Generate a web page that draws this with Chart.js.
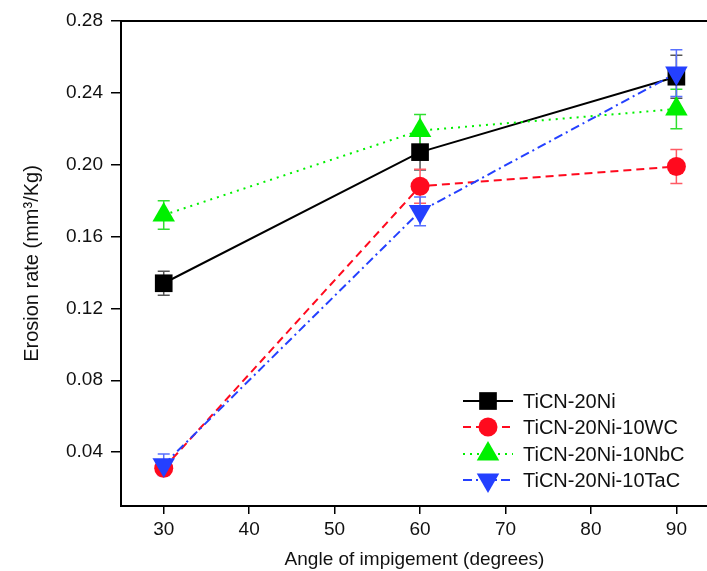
<!DOCTYPE html>
<html>
<head>
<meta charset="utf-8">
<script src="https://cdn.jsdelivr.net/npm/chart.js@4.4.1/dist/chart.umd.min.js"></script>
<style>
  html, body { margin: 0; padding: 0; background: #fff; overflow: hidden; }
  /* the plot frame runs on past the right side, so the canvas is a bit wider than the view */
  #wrap { width: 707px; height: 571px; overflow: hidden; }
</style>
</head>
<body>
<div id="wrap"><canvas id="erosionChart" width="721" height="571"></canvas></div>
<script>
// impingement angles (degrees)
const angles = [30, 60, 90];

// erosion rate, mm3/Kg
const ticnNi = [0.134, 0.207, 0.249];
const ticnNiWC = [0.031, 0.188, 0.199];
const ticnNiNbC = [0.172, 0.219, 0.231];
const ticnNiTaC = [0.033, 0.174, 0.251];

// error bar half-heights
const errNi = [0.0067, 0.010, 0.012];
const errWC = [0.003, 0.0095, 0.0095];
const errNbC = [0.008, 0.009, 0.011];
const errTaC = [0.006, 0.008, 0.013];

const seriesNames = ['TiCN-20Ni', 'TiCN-20Ni-10WC', 'TiCN-20Ni-10NbC', 'TiCN-20Ni-10TaC'];
const xTicks = [30, 40, 50, 60, 70, 80, 90];
const yTicks = [0.04, 0.08, 0.12, 0.16, 0.20, 0.24, 0.28];

const FONT = "'Liberation Sans', Arial, sans-serif";

const pts = (ys) => angles.map((a, i) => ({ x: a, y: ys[i] }));

const datasets = [
    { label: seriesNames[0], data: pts(ticnNi), err: errNi, color: '#000000', errColor: '#555555',
      borderDash: [], pointStyle: 'rect', pointRadius: 12.5, order: 3 },
    { label: seriesNames[1], data: pts(ticnNiWC), err: errWC, color: '#ff0a1e', errColor: '#ff5a64',
      borderDash: [8, 5], pointStyle: 'circle', pointRadius: 9.5, order: 2 },
    { label: seriesNames[2], data: pts(ticnNiNbC), err: errNbC, color: '#00f000', errColor: '#30e030',
      borderDash: [2, 5], pointStyle: 'triangle', pointRadius: 13, order: 1 },
    { label: seriesNames[3], data: pts(ticnNiTaC), err: errTaC, color: '#2440ff', errColor: '#5870ff',
      borderDash: [9, 4, 2, 4], pointStyle: 'triangle', rotation: 180, pointRadius: 13, order: 0 }
].map(d => ({
    ...d,
    borderColor: d.color,
    backgroundColor: d.color,
    pointBackgroundColor: d.color,
    pointBorderColor: d.color,
    pointBorderWidth: 0,
    pointRotation: d.rotation || 0,
    borderWidth: 2,
    tension: 0,
    fill: false
}));

// vertical error bars with caps, drawn under the lines and markers
const errorBars = {
    id: 'errorBars',
    beforeDatasetsDraw(chart) {
        const ctx = chart.ctx;
        const xs = chart.scales.x, ys = chart.scales.y;
        ctx.save();
        chart.data.datasets.forEach(ds => {
            ctx.strokeStyle = ds.errColor;
            ctx.lineWidth = 1.5;
            ds.data.forEach((p, i) => {
                const px = xs.getPixelForValue(p.x);
                const top = ys.getPixelForValue(p.y + ds.err[i]);
                const bot = ys.getPixelForValue(p.y - ds.err[i]);
                ctx.beginPath();
                ctx.moveTo(px, top); ctx.lineTo(px, bot);
                ctx.moveTo(px - 6, top); ctx.lineTo(px + 6, top);
                ctx.moveTo(px - 6, bot); ctx.lineTo(px + 6, bot);
                ctx.stroke();
            });
        });
        ctx.restore();
    }
};

// top frame line plus the legend box inside the plot
const frameAndLegend = {
    id: 'frameAndLegend',
    afterDraw(chart) {
        const ctx = chart.ctx;
        const area = chart.chartArea;
        ctx.save();
        ctx.strokeStyle = '#000';
        ctx.lineWidth = 2;
        ctx.beginPath();
        ctx.moveTo(area.left - 1, area.top);
        ctx.lineTo(area.right, area.top);
        ctx.stroke();

        const x0 = area.left + 342, x1 = area.left + 392;
        const rows = [401, 427, 454, 480];
        chart.data.datasets.forEach((ds, i) => {
            const y = rows[i];
            ctx.strokeStyle = ds.color;
            ctx.lineWidth = 2;
            ctx.setLineDash(ds.borderDash);
            ctx.beginPath();
            ctx.moveTo(x0, y); ctx.lineTo(x1, y);
            ctx.stroke();
            ctx.setLineDash([]);
            ctx.fillStyle = ds.color;
            Chart.helpers.drawPoint(ctx, {
                pointStyle: ds.pointStyle, radius: ds.pointRadius,
                rotation: ds.pointRotation, borderWidth: 0
            }, (x0 + x1) / 2, y);
            ctx.fillStyle = '#111';
            ctx.font = '20px ' + FONT;
            ctx.textBaseline = 'middle';
            ctx.fillText(ds.label, x1 + 10, y + 1);
        });
        ctx.restore();
    }
};

new Chart(document.getElementById('erosionChart'), {
    type: 'line',
    data: { datasets },
    plugins: [errorBars, frameAndLegend],
    options: {
        responsive: false,
        animation: false,
        layout: { padding: { top: 21, right: 0, bottom: 0, left: 0 } },
        plugins: { legend: { display: false }, tooltip: { enabled: false } },
        scales: {
            x: {
                type: 'linear',
                min: 25,
                max: 93.7,
                afterBuildTicks: (scale) => { scale.ticks = xTicks.map(v => ({ value: v })); },
                afterFit: (scale) => { scale.height = 65; },
                ticks: { color: '#111', font: { family: FONT, size: 19 }, padding: 4,
                         callback: (v) => String(v), maxRotation: 0 },
                grid: { drawOnChartArea: false, color: '#000', lineWidth: 1.5, tickLength: 8 },
                border: { color: '#000', width: 2 },
                title: { display: true, text: 'Angle of impigement (degrees)', color: '#111',
                         font: { family: FONT, size: 19 }, padding: { top: 0, bottom: 0 } }
            },
            y: {
                type: 'linear',
                min: 0.01,
                max: 0.28,
                afterBuildTicks: (scale) => { scale.ticks = yTicks.map(v => ({ value: v })); },
                afterFit: (scale) => { scale.width = 121; },
                ticks: { color: '#111', font: { family: FONT, size: 19 }, padding: 8,
                         callback: (v) => v.toFixed(2) },
                grid: { drawOnChartArea: false, color: '#000', lineWidth: 1.5, tickLength: 10 },
                border: { color: '#000', width: 2 },
                title: { display: true, text: 'Erosion rate (mm³/Kg)', color: '#111',
                         font: { family: FONT, size: 20 }, padding: { top: 20, bottom: 0 } }
            }
        }
    }
});
</script>
</body>
</html>
